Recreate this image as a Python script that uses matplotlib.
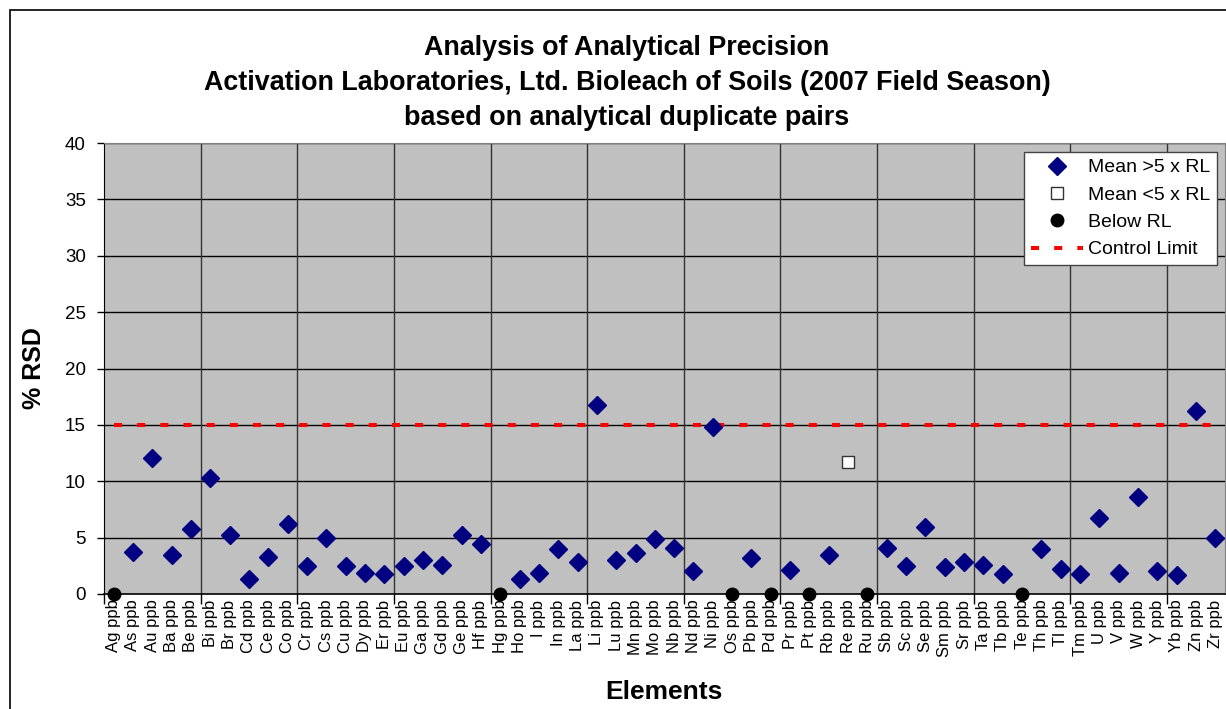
import numpy as np
import matplotlib
matplotlib.use('Agg')
import matplotlib.pyplot as plt
from matplotlib.patches import Rectangle

plt.rcParams['font.family'] = ['Liberation Sans', 'DejaVu Sans']

# Datos
elementos = ['Ag', 'As', 'Au', 'Ba', 'Be', 'Bi', 'Br', 'Cd', 'Ce', 'Co',
             'Cr', 'Cs', 'Cu', 'Dy', 'Er', 'Eu', 'Ga', 'Gd', 'Ge', 'Hf',
             'Hg', 'Ho', 'I', 'In', 'La', 'Li', 'Lu', 'Mn', 'Mo', 'Nb',
             'Nd', 'Ni', 'Os', 'Pb', 'Pd', 'Pr', 'Pt', 'Rb', 'Re', 'Ru',
             'Sb', 'Sc', 'Se', 'Sm', 'Sr', 'Ta', 'Tb', 'Te', 'Th', 'Tl',
             'Tm', 'U', 'V', 'W', 'Y', 'Yb', 'Zn', 'Zr']
etiquetas = [e + ' ppb' for e in elementos]

# Mean >5 x RL (nan = no dato)
nan = np.nan
rsd_alto = [nan, 3.7, 12.1, 3.5, 5.8, 10.3, 5.2, 1.33, 3.25, 6.2,
            2.5, 5.0, 2.5, 1.9, 1.8, 2.5, 3.05, 2.6, 5.2, 4.4,
            nan, 1.33, 1.83, 3.96, 2.8, 16.8, 3.05, 3.6, 4.9, 4.1,
            2.0, 14.85, nan, 3.17, nan, 2.13, nan, 3.5, nan, nan,
            4.1, 2.5, 5.9, 2.37, 2.8, 2.57, 1.8, nan, 3.96, 2.25,
            1.8, 6.7, 1.9, 8.6, 2.0, 1.7, 16.2, 5.0]
# Mean <5 x RL
bajo_x = ['Re']
bajo_y = [11.75]
# Below RL
debajo_x = ['Ag', 'Hg', 'Os', 'Pd', 'Pt', 'Ru', 'Te']
debajo_y = [0, 0, 0, 0, 0, 0, 0]
limite = 15

x = np.arange(len(elementos))
pos = {e: i for i, e in enumerate(elementos)}

fig = plt.figure(figsize=(12.26, 7.09), dpi=100)
# borde del area del grafico
fig.patches.append(Rectangle((10 / 1226, -0.1), 1.2, (709 - 10) / 709 + 0.1,
                             transform=fig.transFigure, fill=False,
                             edgecolor='black', linewidth=1.2))

ax = fig.add_axes([104 / 1226, 1 - 594 / 709, (1225 - 104) / 1226, (594 - 143) / 709])
ax.set_facecolor('#C0C0C0')

ax.plot(x, rsd_alto, 'D', color='#000080', markersize=9, linestyle='none',
        label='Mean >5 x RL', zorder=4)
ax.plot([pos[e] for e in bajo_x], bajo_y, 's', markerfacecolor='white',
        markeredgecolor='#333333', markeredgewidth=1, markersize=9,
        linestyle='none', label='Mean <5 x RL', zorder=4)
ax.plot([pos[e] for e in debajo_x], debajo_y, 'o', color='black', markersize=9,
        linestyle='none', label='Below RL', zorder=5, clip_on=False)
ax.plot([x[0], x[-1]], [limite, limite], color='red', linewidth=2.9,
        dashes=(2, 3.75), label='Control Limit', zorder=3)

ax.set_xlim(-0.5, len(elementos) - 0.5)
ax.set_ylim(0, 40)
ax.set_yticks(np.arange(0, 41, 5))
ax.set_xticks(x)
ax.set_xticklabels(etiquetas, rotation=90, fontsize=12)
ax.set_xticks(np.arange(-0.5, len(elementos), 5), minor=True)
ax.tick_params(axis='x', which='major', length=0, pad=4)
ax.tick_params(axis='x', which='minor', length=7, width=1, direction='out')
ax.tick_params(axis='y', labelsize=13.5, length=5, width=1, direction='out', pad=8)

# rejilla
for yv in range(5, 41, 5):
    ax.axhline(yv, color='black', linewidth=1, zorder=1)
for xv in np.arange(4.5, len(elementos), 5):
    ax.axvline(xv, color='#333333', linewidth=1, zorder=1)

for s in ['top', 'right']:
    ax.spines[s].set_color('#808080')
ax.spines['left'].set_color('black')
ax.spines['bottom'].set_color('black')
ax.spines['bottom'].set_linewidth(1.2)

ax.set_ylabel('% RSD', fontsize=18, fontweight='bold', va='center')
ax.yaxis.set_label_coords((34 - 104) / 1121, 0.5)
ax.set_xlabel('Elements', fontsize=19, fontweight='bold', va='center')
ax.xaxis.set_label_coords((664 - 104) / 1121, (594 - 692) / 451)

xt = 627 / 1226
fig.text(xt, 1 - 48 / 709, 'Analysis of Analytical Precision',
         ha='center', va='center', fontsize=19.4, fontweight='bold')
fig.text(xt, 1 - 83 / 709,
         'Activation Laboratories, Ltd. Bioleach of Soils (2007 Field Season)',
         ha='center', va='center', fontsize=19.4, fontweight='bold')
fig.text(xt, 1 - 118 / 709, 'based on analytical duplicate pairs',
         ha='center', va='center', fontsize=19.4, fontweight='bold')

leg = ax.legend(loc='upper right', bbox_to_anchor=(1217 / 1226, 1 - 152 / 709),
                bbox_transform=fig.transFigure, fontsize=14, frameon=True,
                fancybox=False, edgecolor='#444444', framealpha=1,
                borderaxespad=0, borderpad=0.35, labelspacing=0.5,
                handlelength=2.7, handletextpad=0.25)
leg.get_frame().set_linewidth(1)

fig.savefig('out.png', dpi=100)
